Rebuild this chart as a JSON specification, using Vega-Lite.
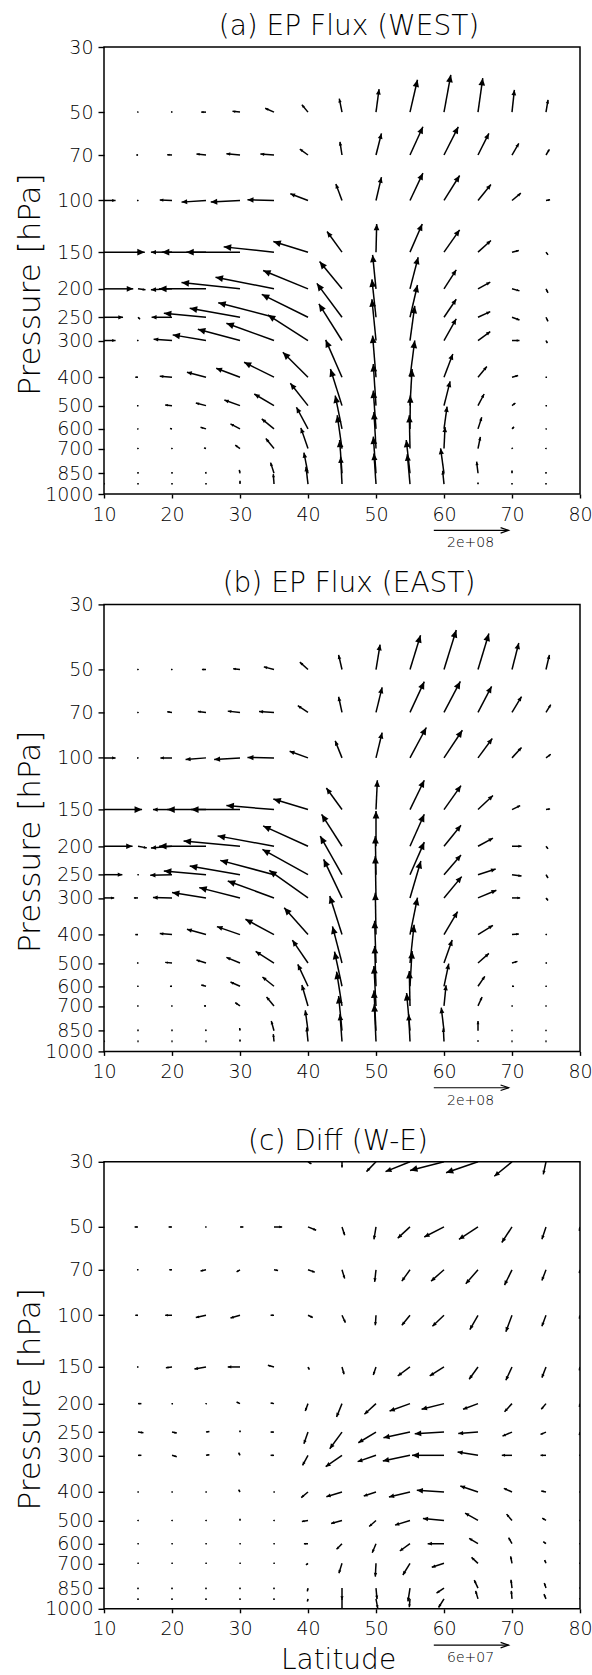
{
"$schema":"https://vega.github.io/schema/vega-lite/v6.json",
"padding":{"left":13,"top":12,"right":4,"bottom":0},
"bounds":"flush",
"spacing":110.4,
"resolve":{"scale":{"x":"independent","y":"independent"}},
"config":{
 "font":"DejaVu Sans",
 "view":{"stroke":"black","strokeWidth":1.5},
 "axis":{"domain":false,"grid":false,"tickColor":"black","tickWidth":1.4,"labelColor":"black","labelFont":"DejaVu Sans","labelFontSize":19,"labelFontWeight":300,"labelFlush":false,"labelOverlap":false,"labelBound":false,"titleFont":"DejaVu Sans","titleFontWeight":300,"titleColor":"black"},
 "title":{"font":"DejaVu Sans","fontSize":28,"fontWeight":300,"color":"black"}
},
"datasets":{
"A":[
{"lat":15,"p":50,"lat2":14.88,"p2":50},{"lat":20,"p":50,"lat2":19.85,"p2":50},{"lat":25,"p":50,"lat2":24.3,"p2":50},{"lat":30,"p":50,"lat2":28.9,"p2":49.7},{"lat":35,"p":50,"lat2":33.7,"p2":48.5},{"lat":40,"p":50,"lat2":39.1,"p2":47.2},{"lat":45,"p":50,"lat2":44.6,"p2":45.0},{"lat":50,"p":50,"lat2":50.45,"p2":41.75},{"lat":55,"p":50,"lat2":56.1,"p2":38.8},{"lat":60,"p":50,"lat2":61.0,"p2":37.3},{"lat":65,"p":50,"lat2":65.7,"p2":38.3},{"lat":70,"p":50,"lat2":70.35,"p2":42.0},{"lat":75,"p":50,"lat2":75.3,"p2":45.4},
{"lat":15,"p":70,"lat2":14.75,"p2":70},{"lat":20,"p":70,"lat2":19.3,"p2":69.8},{"lat":25,"p":70,"lat2":23.6,"p2":69.5},{"lat":30,"p":70,"lat2":28.0,"p2":69.3},{"lat":35,"p":70,"lat2":33.0,"p2":69.5},{"lat":40,"p":70,"lat2":38.8,"p2":66.8},{"lat":45,"p":70,"lat2":44.7,"p2":63.1},{"lat":50,"p":70,"lat2":50.8,"p2":59.1},{"lat":55,"p":70,"lat2":56.9,"p2":56.1},{"lat":60,"p":70,"lat2":62.1,"p2":56.1},{"lat":65,"p":70,"lat2":66.6,"p2":59.1},{"lat":70,"p":70,"lat2":71.0,"p2":63.9},{"lat":75,"p":70,"lat2":75.5,"p2":67.0},
{"lat":10,"p":100,"lat2":11.7,"p2":100},{"lat":15,"p":100,"lat2":14.85,"p2":100},{"lat":20,"p":100,"lat2":18.2,"p2":99.7},{"lat":25,"p":100,"lat2":21.4,"p2":101.3},{"lat":30,"p":100,"lat2":25.7,"p2":101.3},{"lat":35,"p":100,"lat2":31.1,"p2":99.5},{"lat":40,"p":100,"lat2":37.4,"p2":94.9},{"lat":45,"p":100,"lat2":44.1,"p2":87.8},{"lat":50,"p":100,"lat2":50.8,"p2":83.3},{"lat":55,"p":100,"lat2":56.9,"p2":80.7},{"lat":60,"p":100,"lat2":62.3,"p2":82.2},{"lat":65,"p":100,"lat2":66.9,"p2":88.2},{"lat":70,"p":100,"lat2":71.3,"p2":94.4},{"lat":75,"p":100,"lat2":75.6,"p2":99.5},
{"lat":10,"p":150,"lat2":16.0,"p2":150},{"lat":15,"p":150,"lat2":14.85,"p2":150},{"lat":20,"p":150,"lat2":16.9,"p2":150},{"lat":25,"p":150,"lat2":18.5,"p2":150},{"lat":30,"p":150,"lat2":22.1,"p2":150},{"lat":35,"p":150,"lat2":27.6,"p2":143.9},{"lat":40,"p":150,"lat2":34.9,"p2":138.0},{"lat":45,"p":150,"lat2":42.8,"p2":127.6},{"lat":50,"p":150,"lat2":50.1,"p2":120.2},{"lat":55,"p":150,"lat2":56.8,"p2":120.2},{"lat":60,"p":150,"lat2":62.3,"p2":125.9},{"lat":65,"p":150,"lat2":66.9,"p2":136.9},{"lat":70,"p":150,"lat2":71.0,"p2":148.1},{"lat":75,"p":150,"lat2":75.3,"p2":153.2},
{"lat":10,"p":200,"lat2":14.3,"p2":200},{"lat":15,"p":200,"lat2":16.1,"p2":201.6},{"lat":20,"p":200,"lat2":16.9,"p2":201.6},{"lat":25,"p":200,"lat2":18.1,"p2":200},{"lat":30,"p":200,"lat2":21.4,"p2":190.3},{"lat":35,"p":200,"lat2":26.4,"p2":182.5},{"lat":40,"p":200,"lat2":33.4,"p2":173.2},{"lat":45,"p":200,"lat2":41.7,"p2":161.5},{"lat":50,"p":200,"lat2":49.5,"p2":153.3},{"lat":55,"p":200,"lat2":56.2,"p2":156.1},{"lat":60,"p":200,"lat2":61.8,"p2":172.3},{"lat":65,"p":200,"lat2":66.8,"p2":189.8},{"lat":70,"p":200,"lat2":71.1,"p2":203.2},{"lat":75,"p":200,"lat2":75.3,"p2":206.4},
{"lat":10,"p":250,"lat2":12.8,"p2":250},{"lat":15,"p":250,"lat2":15.3,"p2":254},{"lat":20,"p":250,"lat2":17.0,"p2":250},{"lat":25,"p":250,"lat2":18.8,"p2":242.3},{"lat":30,"p":250,"lat2":22.6,"p2":233.0},{"lat":35,"p":250,"lat2":26.8,"p2":222.9},{"lat":40,"p":250,"lat2":33.2,"p2":208.8},{"lat":45,"p":250,"lat2":41.3,"p2":191.6},{"lat":50,"p":250,"lat2":49.4,"p2":185.6},{"lat":55,"p":250,"lat2":56.1,"p2":194.1},{"lat":60,"p":250,"lat2":61.8,"p2":217.1},{"lat":65,"p":250,"lat2":66.8,"p2":239.2},{"lat":70,"p":250,"lat2":71.1,"p2":255.3},{"lat":75,"p":250,"lat2":75.3,"p2":258.0},
{"lat":10,"p":300,"lat2":11.7,"p2":300},{"lat":15,"p":300,"lat2":14.85,"p2":300},{"lat":20,"p":300,"lat2":17.3,"p2":296.9},{"lat":25,"p":300,"lat2":20.1,"p2":287.0},{"lat":30,"p":300,"lat2":23.8,"p2":274.5},{"lat":35,"p":300,"lat2":28.0,"p2":261.9},{"lat":40,"p":300,"lat2":34.1,"p2":245.4},{"lat":45,"p":300,"lat2":41.6,"p2":225.0},{"lat":50,"p":300,"lat2":49.4,"p2":217.0},{"lat":55,"p":300,"lat2":55.7,"p2":228.6},{"lat":60,"p":300,"lat2":61.8,"p2":253.1},{"lat":65,"p":300,"lat2":66.8,"p2":279.6},{"lat":70,"p":300,"lat2":71.1,"p2":300},{"lat":75,"p":300,"lat2":75.2,"p2":306.3},
{"lat":15,"p":400,"lat2":14.6,"p2":400},{"lat":20,"p":400,"lat2":18.2,"p2":396.9},{"lat":25,"p":400,"lat2":22.2,"p2":384.6},{"lat":30,"p":400,"lat2":26.5,"p2":372.8},{"lat":35,"p":400,"lat2":30.6,"p2":355.8},{"lat":40,"p":400,"lat2":36.3,"p2":328.8},{"lat":45,"p":400,"lat2":42.6,"p2":298.5},{"lat":50,"p":400,"lat2":49.5,"p2":288.6},{"lat":55,"p":400,"lat2":55.7,"p2":300.0},{"lat":60,"p":400,"lat2":61.3,"p2":333.2},{"lat":65,"p":400,"lat2":66.3,"p2":367.9},{"lat":70,"p":400,"lat2":70.9,"p2":394.8},{"lat":75,"p":400,"lat2":75.15,"p2":400},
{"lat":15,"p":500,"lat2":14.85,"p2":500},{"lat":20,"p":500,"lat2":19.0,"p2":497.4},{"lat":25,"p":500,"lat2":23.5,"p2":489.7},{"lat":30,"p":500,"lat2":27.7,"p2":478.3},{"lat":35,"p":500,"lat2":32.1,"p2":456.4},{"lat":40,"p":500,"lat2":37.4,"p2":419.7},{"lat":45,"p":500,"lat2":43.3,"p2":375.1},{"lat":50,"p":500,"lat2":49.6,"p2":360.7},{"lat":55,"p":500,"lat2":55.3,"p2":375.1},{"lat":60,"p":500,"lat2":60.9,"p2":413.2},{"lat":65,"p":500,"lat2":65.9,"p2":456.4},{"lat":70,"p":500,"lat2":70.5,"p2":489.7},{"lat":75,"p":500,"lat2":75.15,"p2":500},
{"lat":15,"p":600,"lat2":14.88,"p2":600},{"lat":20,"p":600,"lat2":19.7,"p2":598.4},{"lat":25,"p":600,"lat2":24.2,"p2":592.2},{"lat":30,"p":600,"lat2":28.6,"p2":577.0},{"lat":35,"p":600,"lat2":33.2,"p2":554.8},{"lat":40,"p":600,"lat2":38.3,"p2":506.3},{"lat":45,"p":600,"lat2":44.0,"p2":462.1},{"lat":50,"p":600,"lat2":49.6,"p2":444.3},{"lat":55,"p":600,"lat2":55.05,"p2":462.1},{"lat":60,"p":600,"lat2":60.45,"p2":503.6},{"lat":65,"p":600,"lat2":65.55,"p2":547.6},{"lat":70,"p":600,"lat2":70.3,"p2":590.6},{"lat":75,"p":600,"lat2":75.12,"p2":600},
{"lat":15,"p":700,"lat2":14.88,"p2":700},{"lat":20,"p":700,"lat2":19.88,"p2":700},{"lat":25,"p":700,"lat2":24.7,"p2":696.4},{"lat":30,"p":700,"lat2":29.3,"p2":681.9},{"lat":35,"p":700,"lat2":33.8,"p2":647.2},{"lat":40,"p":700,"lat2":38.95,"p2":595.3},{"lat":45,"p":700,"lat2":44.3,"p2":539.1},{"lat":50,"p":700,"lat2":49.7,"p2":525.1},{"lat":55,"p":700,"lat2":54.9,"p2":539.1},{"lat":60,"p":700,"lat2":60.15,"p2":590.7},{"lat":65,"p":700,"lat2":65.35,"p2":638.9},{"lat":70,"p":700,"lat2":70.12,"p2":696.4},{"lat":75,"p":700,"lat2":75.1,"p2":700},
{"lat":15,"p":850,"lat2":15,"p2":842},{"lat":20,"p":850,"lat2":20,"p2":842},{"lat":25,"p":850,"lat2":24.95,"p2":842},{"lat":30,"p":850,"lat2":29.9,"p2":828.1},{"lat":35,"p":850,"lat2":34.5,"p2":781.8},{"lat":40,"p":850,"lat2":39.4,"p2":722.8},{"lat":45,"p":850,"lat2":44.65,"p2":654.6},{"lat":50,"p":850,"lat2":49.6,"p2":637.6},{"lat":55,"p":850,"lat2":54.45,"p2":654.6},{"lat":60,"p":850,"lat2":59.5,"p2":698.8},{"lat":65,"p":850,"lat2":64.8,"p2":775.8},{"lat":70,"p":850,"lat2":70.0,"p2":832.4},{"lat":75,"p":850,"lat2":75.0,"p2":842},
{"lat":10,"p":925,"lat2":10.1,"p2":920},{"lat":15,"p":925,"lat2":15,"p2":918},{"lat":20,"p":925,"lat2":20,"p2":918},{"lat":25,"p":925,"lat2":25,"p2":918},{"lat":30,"p":925,"lat2":30.0,"p2":901.1},{"lat":35,"p":925,"lat2":34.9,"p2":855.3},{"lat":40,"p":925,"lat2":39.7,"p2":807.6},{"lat":45,"p":925,"lat2":44.8,"p2":746.8},{"lat":50,"p":925,"lat2":49.7,"p2":727.4},{"lat":55,"p":925,"lat2":54.6,"p2":731.1},{"lat":60,"p":925,"lat2":59.8,"p2":833.3},{"lat":65,"p":925,"lat2":65.0,"p2":913.0},{"lat":70,"p":925,"lat2":70.0,"p2":918},{"lat":75,"p":925,"lat2":75.0,"p2":918}
],
"B":[
{"lat":15,"p":50,"lat2":14.88,"p2":50},{"lat":20,"p":50,"lat2":19.85,"p2":50},{"lat":25,"p":50,"lat2":24.4,"p2":50},{"lat":30,"p":50,"lat2":29.0,"p2":49.7},{"lat":35,"p":50,"lat2":33.5,"p2":48.97},{"lat":40,"p":50,"lat2":38.8,"p2":47.2},{"lat":45,"p":50,"lat2":44.5,"p2":44.6},{"lat":50,"p":50,"lat2":50.6,"p2":41.1},{"lat":55,"p":50,"lat2":56.55,"p2":38.2},{"lat":60,"p":50,"lat2":61.8,"p2":36.7},{"lat":65,"p":50,"lat2":66.6,"p2":37.7},{"lat":70,"p":50,"lat2":71.0,"p2":40.6},{"lat":75,"p":50,"lat2":75.5,"p2":44.6},
{"lat":15,"p":70,"lat2":14.88,"p2":70},{"lat":20,"p":70,"lat2":19.3,"p2":69.6},{"lat":25,"p":70,"lat2":23.8,"p2":69.5},{"lat":30,"p":70,"lat2":28.2,"p2":69.3},{"lat":35,"p":70,"lat2":32.8,"p2":69.5},{"lat":40,"p":70,"lat2":38.5,"p2":66.4},{"lat":45,"p":70,"lat2":44.5,"p2":61.9},{"lat":50,"p":70,"lat2":50.9,"p2":57.5},{"lat":55,"p":70,"lat2":57.1,"p2":55.0},{"lat":60,"p":70,"lat2":62.4,"p2":54.9},{"lat":65,"p":70,"lat2":67.0,"p2":57.1},{"lat":70,"p":70,"lat2":71.4,"p2":61.8},{"lat":75,"p":70,"lat2":75.7,"p2":65.9},
{"lat":10,"p":100,"lat2":11.7,"p2":100},{"lat":15,"p":100,"lat2":14.85,"p2":100},{"lat":20,"p":100,"lat2":18.3,"p2":100},{"lat":25,"p":100,"lat2":22.0,"p2":101.3},{"lat":30,"p":100,"lat2":26.2,"p2":101.3},{"lat":35,"p":100,"lat2":31.1,"p2":99.7},{"lat":40,"p":100,"lat2":37.3,"p2":94.9},{"lat":45,"p":100,"lat2":44.0,"p2":87.5},{"lat":50,"p":100,"lat2":50.9,"p2":82.0},{"lat":55,"p":100,"lat2":57.4,"p2":78.8},{"lat":60,"p":100,"lat2":62.7,"p2":80.5},{"lat":65,"p":100,"lat2":67.1,"p2":85.9},{"lat":70,"p":100,"lat2":71.4,"p2":92.2},{"lat":75,"p":100,"lat2":75.7,"p2":97.2},
{"lat":10,"p":150,"lat2":15.6,"p2":150},{"lat":15,"p":150,"lat2":14.85,"p2":150},{"lat":20,"p":150,"lat2":17.2,"p2":150},{"lat":25,"p":150,"lat2":19.3,"p2":150},{"lat":30,"p":150,"lat2":22.8,"p2":150},{"lat":35,"p":150,"lat2":28.0,"p2":145.4},{"lat":40,"p":150,"lat2":34.9,"p2":138.0},{"lat":45,"p":150,"lat2":42.7,"p2":126.6},{"lat":50,"p":150,"lat2":50.2,"p2":119.2},{"lat":55,"p":150,"lat2":57.1,"p2":119.2},{"lat":60,"p":150,"lat2":62.5,"p2":124.3},{"lat":65,"p":150,"lat2":67.2,"p2":134.4},{"lat":70,"p":150,"lat2":71.2,"p2":145.4},{"lat":75,"p":150,"lat2":75.6,"p2":149.2},
{"lat":10,"p":200,"lat2":14.2,"p2":200},{"lat":15,"p":200,"lat2":16.3,"p2":202.6},{"lat":20,"p":200,"lat2":16.9,"p2":202.6},{"lat":25,"p":200,"lat2":18.1,"p2":200},{"lat":30,"p":200,"lat2":21.7,"p2":191.8},{"lat":35,"p":200,"lat2":26.7,"p2":184.4},{"lat":40,"p":200,"lat2":33.4,"p2":170.5},{"lat":45,"p":200,"lat2":42.0,"p2":155.7},{"lat":50,"p":200,"lat2":50.0,"p2":151.6},{"lat":55,"p":200,"lat2":57.1,"p2":155.7},{"lat":60,"p":200,"lat2":62.5,"p2":169.6},{"lat":65,"p":200,"lat2":67.2,"p2":187.8},{"lat":70,"p":200,"lat2":71.4,"p2":200},{"lat":75,"p":200,"lat2":75.3,"p2":204.2},
{"lat":10,"p":250,"lat2":12.7,"p2":250},{"lat":15,"p":250,"lat2":15.12,"p2":250},{"lat":20,"p":250,"lat2":16.8,"p2":251.3},{"lat":25,"p":250,"lat2":18.8,"p2":242.9},{"lat":30,"p":250,"lat2":22.6,"p2":233.6},{"lat":35,"p":250,"lat2":27.1,"p2":223.5},{"lat":40,"p":250,"lat2":33.3,"p2":205.0},{"lat":45,"p":250,"lat2":41.8,"p2":184.6},{"lat":50,"p":250,"lat2":49.9,"p2":184.6},{"lat":55,"p":250,"lat2":57.1,"p2":193.6},{"lat":60,"p":250,"lat2":62.5,"p2":214.3},{"lat":65,"p":250,"lat2":67.6,"p2":239.2},{"lat":70,"p":250,"lat2":71.4,"p2":252.6},{"lat":75,"p":250,"lat2":75.3,"p2":256.6},
{"lat":10,"p":300,"lat2":11.5,"p2":300},{"lat":15,"p":300,"lat2":14.4,"p2":300},{"lat":20,"p":300,"lat2":17.2,"p2":299.2},{"lat":25,"p":300,"lat2":20.0,"p2":287.7},{"lat":30,"p":300,"lat2":24.0,"p2":276.7},{"lat":35,"p":300,"lat2":28.2,"p2":262.6},{"lat":40,"p":300,"lat2":34.3,"p2":241.6},{"lat":45,"p":300,"lat2":42.3,"p2":221.6},{"lat":50,"p":300,"lat2":49.9,"p2":215.9},{"lat":55,"p":300,"lat2":56.6,"p2":224.5},{"lat":60,"p":300,"lat2":62.6,"p2":253.8},{"lat":65,"p":300,"lat2":67.7,"p2":282.5},{"lat":70,"p":300,"lat2":71.2,"p2":300},{"lat":75,"p":300,"lat2":75.3,"p2":306.3},
{"lat":15,"p":400,"lat2":14.6,"p2":400},{"lat":20,"p":400,"lat2":18.2,"p2":396.9},{"lat":25,"p":400,"lat2":22.2,"p2":383.6},{"lat":30,"p":400,"lat2":26.6,"p2":375.7},{"lat":35,"p":400,"lat2":30.8,"p2":354.7},{"lat":40,"p":400,"lat2":36.5,"p2":323.8},{"lat":45,"p":400,"lat2":43.2,"p2":295.4},{"lat":50,"p":400,"lat2":49.9,"p2":287.8},{"lat":55,"p":400,"lat2":56.1,"p2":299.3},{"lat":60,"p":400,"lat2":62.0,"p2":334.0},{"lat":65,"p":400,"lat2":67.2,"p2":371.8},{"lat":70,"p":400,"lat2":71.0,"p2":397.9},{"lat":75,"p":400,"lat2":75.15,"p2":400},
{"lat":15,"p":500,"lat2":14.85,"p2":500},{"lat":20,"p":500,"lat2":19.0,"p2":497.4},{"lat":25,"p":500,"lat2":23.6,"p2":488.4},{"lat":30,"p":500,"lat2":28.0,"p2":478.3},{"lat":35,"p":500,"lat2":32.3,"p2":456.4},{"lat":40,"p":500,"lat2":37.7,"p2":417.5},{"lat":45,"p":500,"lat2":43.6,"p2":375.1},{"lat":50,"p":500,"lat2":49.8,"p2":358.8},{"lat":55,"p":500,"lat2":55.6,"p2":370.3},{"lat":60,"p":500,"lat2":61.2,"p2":417.5},{"lat":65,"p":500,"lat2":66.6,"p2":463.6},{"lat":70,"p":500,"lat2":70.8,"p2":493.5},{"lat":75,"p":500,"lat2":75.15,"p2":500},
{"lat":15,"p":600,"lat2":14.88,"p2":600},{"lat":20,"p":600,"lat2":19.7,"p2":600},{"lat":25,"p":600,"lat2":24.3,"p2":593.8},{"lat":30,"p":600,"lat2":28.6,"p2":580.0},{"lat":35,"p":600,"lat2":33.3,"p2":557.7},{"lat":40,"p":600,"lat2":38.5,"p2":505.0},{"lat":45,"p":600,"lat2":43.9,"p2":457.2},{"lat":50,"p":600,"lat2":49.8,"p2":437.4},{"lat":55,"p":600,"lat2":55.3,"p2":454.8},{"lat":60,"p":600,"lat2":60.7,"p2":502.3},{"lat":65,"p":600,"lat2":66.0,"p2":554.8},{"lat":70,"p":600,"lat2":70.3,"p2":600},{"lat":75,"p":600,"lat2":75.12,"p2":600},
{"lat":15,"p":700,"lat2":14.88,"p2":700},{"lat":20,"p":700,"lat2":19.88,"p2":700},{"lat":25,"p":700,"lat2":24.7,"p2":700},{"lat":30,"p":700,"lat2":29.3,"p2":681.9},{"lat":35,"p":700,"lat2":33.9,"p2":652.3},{"lat":40,"p":700,"lat2":39.1,"p2":593.7},{"lat":45,"p":700,"lat2":44.2,"p2":534.8},{"lat":50,"p":700,"lat2":49.7,"p2":511.6},{"lat":55,"p":700,"lat2":54.9,"p2":532.0},{"lat":60,"p":700,"lat2":60.3,"p2":595.3},{"lat":65,"p":700,"lat2":65.6,"p2":652.3},{"lat":70,"p":700,"lat2":70.12,"p2":700},{"lat":75,"p":700,"lat2":75.1,"p2":700},
{"lat":15,"p":850,"lat2":15,"p2":842},{"lat":20,"p":850,"lat2":20,"p2":842},{"lat":25,"p":850,"lat2":24.95,"p2":842},{"lat":30,"p":850,"lat2":29.95,"p2":832.4},{"lat":35,"p":850,"lat2":34.6,"p2":788.0},{"lat":40,"p":850,"lat2":39.6,"p2":724.7},{"lat":45,"p":850,"lat2":44.5,"p2":647.7},{"lat":50,"p":850,"lat2":49.7,"p2":619.6},{"lat":55,"p":850,"lat2":54.5,"p2":632.6},{"lat":60,"p":850,"lat2":59.6,"p2":709.8},{"lat":65,"p":850,"lat2":65.0,"p2":788.0},{"lat":70,"p":850,"lat2":70.0,"p2":843.4},{"lat":75,"p":850,"lat2":75.0,"p2":843.4},
{"lat":10,"p":925,"lat2":10.1,"p2":920},{"lat":15,"p":925,"lat2":15,"p2":918},{"lat":20,"p":925,"lat2":20,"p2":918},{"lat":25,"p":925,"lat2":25,"p2":918},{"lat":30,"p":925,"lat2":30,"p2":910.6},{"lat":35,"p":925,"lat2":34.9,"p2":873.4},{"lat":40,"p":925,"lat2":39.8,"p2":829.0},{"lat":45,"p":925,"lat2":44.7,"p2":746.8},{"lat":50,"p":925,"lat2":49.75,"p2":690.2},{"lat":55,"p":925,"lat2":54.8,"p2":746.8},{"lat":60,"p":925,"lat2":59.9,"p2":833.3},{"lat":65,"p":925,"lat2":65.0,"p2":915.4},{"lat":70,"p":925,"lat2":70,"p2":918},{"lat":75,"p":925,"lat2":75,"p2":918}
],
"C":[
{"lat":40,"p":30,"lat2":40.5,"p2":30.5},{"lat":45,"p":30,"lat2":45.0,"p2":31.4},{"lat":50,"p":30,"lat2":48.6,"p2":32.4},{"lat":55,"p":30,"lat2":51.4,"p2":32.4},{"lat":60,"p":30,"lat2":55.0,"p2":32.1},{"lat":65,"p":30,"lat2":60.3,"p2":32.7},{"lat":70,"p":30,"lat2":67.4,"p2":33.6},{"lat":75,"p":30,"lat2":74.6,"p2":33.1},
{"lat":15,"p":50,"lat2":14.5,"p2":50},{"lat":20,"p":50,"lat2":19.5,"p2":50},{"lat":25,"p":50,"lat2":24.88,"p2":50},{"lat":30,"p":50,"lat2":30.5,"p2":50},{"lat":35,"p":50,"lat2":36.2,"p2":50},{"lat":40,"p":50,"lat2":41.2,"p2":51.3},{"lat":45,"p":50,"lat2":45.4,"p2":53.4},{"lat":50,"p":50,"lat2":49.7,"p2":55.1},{"lat":55,"p":50,"lat2":53.2,"p2":54.6},{"lat":60,"p":50,"lat2":57.1,"p2":54.1},{"lat":65,"p":50,"lat2":62.2,"p2":55.1},{"lat":70,"p":50,"lat2":68.5,"p2":56.5},{"lat":75,"p":50,"lat2":74.4,"p2":55.1},{"lat":80,"p":50,"lat2":79.9,"p2":51.6},
{"lat":15,"p":70,"lat2":14.85,"p2":70},{"lat":20,"p":70,"lat2":19.6,"p2":70},{"lat":25,"p":70,"lat2":24.2,"p2":70.6},{"lat":30,"p":70,"lat2":29.5,"p2":71.1},{"lat":35,"p":70,"lat2":35.6,"p2":70.4},{"lat":40,"p":70,"lat2":41.0,"p2":71.3},{"lat":45,"p":70,"lat2":45.4,"p2":74.9},{"lat":50,"p":70,"lat2":49.8,"p2":76.9},{"lat":55,"p":70,"lat2":53.8,"p2":76.5},{"lat":60,"p":70,"lat2":58.1,"p2":76.5},{"lat":65,"p":70,"lat2":63.2,"p2":78.1},{"lat":70,"p":70,"lat2":68.9,"p2":78.9},{"lat":75,"p":70,"lat2":74.4,"p2":76.1},{"lat":80,"p":70,"lat2":79.9,"p2":71.9},
{"lat":15,"p":100,"lat2":14.6,"p2":100},{"lat":20,"p":100,"lat2":19.0,"p2":100},{"lat":25,"p":100,"lat2":23.5,"p2":101.8},{"lat":30,"p":100,"lat2":28.6,"p2":102.1},{"lat":35,"p":100,"lat2":34.5,"p2":100},{"lat":40,"p":100,"lat2":40.7,"p2":101.8},{"lat":45,"p":100,"lat2":45.5,"p2":105.9},{"lat":50,"p":100,"lat2":49.9,"p2":108.2},{"lat":55,"p":100,"lat2":53.8,"p2":108.2},{"lat":60,"p":100,"lat2":58.3,"p2":109.0},{"lat":65,"p":100,"lat2":63.8,"p2":111.9},{"lat":70,"p":100,"lat2":69.1,"p2":113.7},{"lat":75,"p":100,"lat2":74.4,"p2":109.0},{"lat":80,"p":100,"lat2":79.9,"p2":102.7},
{"lat":15,"p":150,"lat2":14.85,"p2":150},{"lat":20,"p":150,"lat2":19.1,"p2":150.8},{"lat":25,"p":150,"lat2":23.3,"p2":152.4},{"lat":30,"p":150,"lat2":28.2,"p2":150},{"lat":35,"p":150,"lat2":34.1,"p2":148.1},{"lat":40,"p":150,"lat2":40.2,"p2":153.2},{"lat":45,"p":150,"lat2":45.3,"p2":158.9},{"lat":50,"p":150,"lat2":49.6,"p2":159.7},{"lat":55,"p":150,"lat2":53.2,"p2":161.0},{"lat":60,"p":150,"lat2":57.9,"p2":161.0},{"lat":65,"p":150,"lat2":63.7,"p2":165.2},{"lat":70,"p":150,"lat2":69.1,"p2":166.5},{"lat":75,"p":150,"lat2":74.4,"p2":163.1},{"lat":80,"p":150,"lat2":79.9,"p2":154},
{"lat":15,"p":200,"lat2":15.5,"p2":200},{"lat":20,"p":200,"lat2":20.15,"p2":200},{"lat":25,"p":200,"lat2":25.12,"p2":200},{"lat":30,"p":200,"lat2":29.5,"p2":197.4},{"lat":35,"p":200,"lat2":34.5,"p2":199.0},{"lat":40,"p":200,"lat2":39.6,"p2":211.8},{"lat":45,"p":200,"lat2":44.2,"p2":222.0},{"lat":50,"p":200,"lat2":48.3,"p2":217.4},{"lat":55,"p":200,"lat2":52.0,"p2":211.8},{"lat":60,"p":200,"lat2":56.7,"p2":209.1},{"lat":65,"p":200,"lat2":62.8,"p2":209.1},{"lat":70,"p":200,"lat2":68.9,"p2":213.0},{"lat":75,"p":200,"lat2":74.3,"p2":209.1},{"lat":80,"p":200,"lat2":79.9,"p2":205},
{"lat":15,"p":250,"lat2":15.8,"p2":251.3},{"lat":20,"p":250,"lat2":20.7,"p2":252.0},{"lat":25,"p":250,"lat2":25.5,"p2":248.7},{"lat":30,"p":250,"lat2":30.0,"p2":246.8},{"lat":35,"p":250,"lat2":34.5,"p2":250},{"lat":40,"p":250,"lat2":39.4,"p2":274.0},{"lat":45,"p":250,"lat2":43.2,"p2":284.9},{"lat":50,"p":250,"lat2":47.4,"p2":271.8},{"lat":55,"p":250,"lat2":51.1,"p2":261.4},{"lat":60,"p":250,"lat2":55.7,"p2":253.3},{"lat":65,"p":250,"lat2":62.1,"p2":252.6},{"lat":70,"p":250,"lat2":68.6,"p2":258.0},{"lat":75,"p":250,"lat2":74.2,"p2":254.6},{"lat":80,"p":250,"lat2":79.9,"p2":256},
{"lat":15,"p":300,"lat2":15.5,"p2":300},{"lat":20,"p":300,"lat2":20.7,"p2":303.2},{"lat":25,"p":300,"lat2":25.5,"p2":298.4},{"lat":30,"p":300,"lat2":29.8,"p2":293.8},{"lat":35,"p":300,"lat2":34.5,"p2":300},{"lat":40,"p":300,"lat2":39.2,"p2":324.5},{"lat":45,"p":300,"lat2":42.6,"p2":327.9},{"lat":50,"p":300,"lat2":47.3,"p2":315.3},{"lat":55,"p":300,"lat2":51.0,"p2":313.6},{"lat":60,"p":300,"lat2":55.3,"p2":300},{"lat":65,"p":300,"lat2":62.0,"p2":292.3},{"lat":70,"p":300,"lat2":68.5,"p2":300},{"lat":75,"p":300,"lat2":74.2,"p2":300},{"lat":80,"p":300,"lat2":79.9,"p2":300},
{"lat":15,"p":400,"lat2":15.12,"p2":400},{"lat":20,"p":400,"lat2":20.12,"p2":400},{"lat":25,"p":400,"lat2":25.12,"p2":400},{"lat":30,"p":400,"lat2":29.8,"p2":392.8},{"lat":35,"p":400,"lat2":35.12,"p2":400},{"lat":40,"p":400,"lat2":39.0,"p2":418.2},{"lat":45,"p":400,"lat2":42.7,"p2":414.9},{"lat":50,"p":400,"lat2":48.2,"p2":412.8},{"lat":55,"p":400,"lat2":51.9,"p2":416.0},{"lat":60,"p":400,"lat2":56.0,"p2":394.8},{"lat":65,"p":400,"lat2":62.4,"p2":381.6},{"lat":70,"p":400,"lat2":68.8,"p2":388.6},{"lat":75,"p":400,"lat2":74.3,"p2":396.9},{"lat":80,"p":400,"lat2":79.9,"p2":400},
{"lat":15,"p":500,"lat2":15.12,"p2":500},{"lat":20,"p":500,"lat2":20.12,"p2":500},{"lat":25,"p":500,"lat2":25.12,"p2":500},{"lat":30,"p":500,"lat2":30.0,"p2":493.5},{"lat":35,"p":500,"lat2":35.12,"p2":500},{"lat":40,"p":500,"lat2":39.1,"p2":503.9},{"lat":45,"p":500,"lat2":43.4,"p2":511.9},{"lat":50,"p":500,"lat2":49.0,"p2":524.1},{"lat":55,"p":500,"lat2":52.8,"p2":518.6},{"lat":60,"p":500,"lat2":56.9,"p2":492.2},{"lat":65,"p":500,"lat2":63.1,"p2":472.1},{"lat":70,"p":500,"lat2":69.2,"p2":475.8},{"lat":75,"p":500,"lat2":74.45,"p2":491.0},{"lat":80,"p":500,"lat2":79.9,"p2":500},
{"lat":15,"p":600,"lat2":15.12,"p2":600},{"lat":20,"p":600,"lat2":20.12,"p2":600},{"lat":25,"p":600,"lat2":25.12,"p2":600},{"lat":30,"p":600,"lat2":30.12,"p2":600},{"lat":35,"p":600,"lat2":35.12,"p2":600},{"lat":40,"p":600,"lat2":39.4,"p2":600},{"lat":45,"p":600,"lat2":44.2,"p2":627.2},{"lat":50,"p":600,"lat2":49.45,"p2":643.9},{"lat":55,"p":600,"lat2":53.5,"p2":635.5},{"lat":60,"p":600,"lat2":57.6,"p2":600},{"lat":65,"p":600,"lat2":63.7,"p2":575.4},{"lat":70,"p":600,"lat2":69.5,"p2":572.5},{"lat":75,"p":600,"lat2":74.6,"p2":590.6},{"lat":80,"p":600,"lat2":79.9,"p2":600},
{"lat":15,"p":700,"lat2":15.12,"p2":700},{"lat":20,"p":700,"lat2":20.12,"p2":700},{"lat":25,"p":700,"lat2":25.12,"p2":700},{"lat":30,"p":700,"lat2":30.12,"p2":700},{"lat":35,"p":700,"lat2":35.12,"p2":700},{"lat":40,"p":700,"lat2":39.7,"p2":709.2},{"lat":45,"p":700,"lat2":44.55,"p2":757.1},{"lat":50,"p":700,"lat2":49.9,"p2":777.1},{"lat":55,"p":700,"lat2":53.95,"p2":767.1},{"lat":60,"p":700,"lat2":58.2,"p2":722.3},{"lat":65,"p":700,"lat2":64.05,"p2":667.9},{"lat":70,"p":700,"lat2":69.8,"p2":662.6},{"lat":75,"p":700,"lat2":74.8,"p2":681.9},{"lat":80,"p":700,"lat2":79.9,"p2":700},
{"lat":15,"p":850,"lat2":15,"p2":858},{"lat":20,"p":850,"lat2":20,"p2":858},{"lat":25,"p":850,"lat2":25,"p2":858},{"lat":30,"p":850,"lat2":30,"p2":858},{"lat":35,"p":850,"lat2":35,"p2":858},{"lat":40,"p":850,"lat2":39.9,"p2":872.5},{"lat":45,"p":850,"lat2":45.0,"p2":931.5},{"lat":50,"p":850,"lat2":50.15,"p2":926.5},{"lat":55,"p":850,"lat2":54.7,"p2":943.7},{"lat":60,"p":850,"lat2":58.9,"p2":884.0},{"lat":65,"p":850,"lat2":64.45,"p2":798.3},{"lat":70,"p":850,"lat2":69.85,"p2":796.3},{"lat":75,"p":850,"lat2":74.75,"p2":817.4},{"lat":80,"p":850,"lat2":79.9,"p2":850},
{"lat":15,"p":925,"lat2":15,"p2":933},{"lat":20,"p":925,"lat2":20,"p2":933},{"lat":25,"p":925,"lat2":25,"p2":933},{"lat":30,"p":925,"lat2":30,"p2":933},{"lat":35,"p":925,"lat2":35,"p2":933},{"lat":40,"p":925,"lat2":39.9,"p2":944.5},{"lat":45,"p":925,"lat2":45.0,"p2":1026.9},{"lat":50,"p":925,"lat2":50.25,"p2":995.2},{"lat":55,"p":925,"lat2":54.9,"p2":987.5},{"lat":60,"p":925,"lat2":59.2,"p2":990.0},{"lat":65,"p":925,"lat2":64.65,"p2":868.8},{"lat":70,"p":925,"lat2":69.9,"p2":868.8},{"lat":75,"p":925,"lat2":74.7,"p2":891.4},{"lat":80,"p":925,"lat2":79.9,"p2":925}
]
},
"vconcat":[
{
"width":476,"height":447,
"title":{"text":"(a) EP Flux (WEST)","offset":-25,"baseline":"alphabetic","dx":7},
"layer":[
{"data":{"name":"A"},"mark":{"type":"rule","clip":true,"color":"black","strokeWidth":1.5},
 "encoding":{
  "x":{"field":"lat","type":"quantitative","scale":{"domain":[10,80],"nice":false,"zero":false},"axis":{"values":[10,20,30,40,50,60,70,80],"title":null,"tickSize":4,"labelPadding":7,"labelAngle":0}},
  "y":{"field":"p","type":"quantitative","scale":{"type":"log","domain":[30,1000],"reverse":true,"nice":false},"axis":{"values":[30,50,70,100,150,200,250,300,400,500,600,700,850,1000],"format":"d","title":"Pressure [hPa]","titleFontSize":31,"titleAngle":-90,"titleX":-73.5,"titleY":237,"titleBaseline":"middle","titleAlign":"center","tickSize":6,"labelPadding":5}},
  "x2":{"field":"lat2"},"y2":{"field":"p2"}}},
{"data":{"name":"A"},"mark":{"type":"point","clip":true,"shape":"M0,0L-0.45,1L0.45,1Z","filled":true,"color":"black","opacity":1,"strokeWidth":0,
  "angle":{"expr":"atan2(scale('concat_0_x',datum.lat2)-scale('concat_0_x',datum.lat),scale('concat_0_y',datum.p)-scale('concat_0_y',datum.p2))*180/PI"},
  "size":{"expr":"4*pow(min(7.5,1.5+0.17*sqrt(pow(scale('concat_0_x',datum.lat2)-scale('concat_0_x',datum.lat),2)+pow(scale('concat_0_y',datum.p)-scale('concat_0_y',datum.p2),2))),2)"}},
 "encoding":{"x":{"field":"lat2","type":"quantitative"},"y":{"field":"p2","type":"quantitative"}}},
{"data":{"values":[{"lat":58.5,"lat2":69.5,"p":1330,"p2":1330}]},"mark":{"type":"rule","clip":false,"color":"black","strokeWidth":1.2},
 "encoding":{"x":{"field":"lat","type":"quantitative"},"x2":{"field":"lat2"},"y":{"field":"p","type":"quantitative"},"y2":{"field":"p2"}}},
{"data":{"values":[{"lat2":69.5,"p2":1330}]},"mark":{"type":"point","clip":false,"shape":"M-0.34,1L0,0L0.34,1","filled":false,"color":"black","opacity":1,"strokeWidth":1.2,"angle":90,"size":256},
 "encoding":{"x":{"field":"lat2","type":"quantitative"},"y":{"field":"p2","type":"quantitative"}}},
{"data":{"values":[{"lat":63.9,"p":1520,"label":"2e+08"}]},"mark":{"type":"text","clip":false,"fontSize":14,"fontWeight":300,"baseline":"alphabetic","align":"center","color":"black"},
 "encoding":{"x":{"field":"lat","type":"quantitative"},"y":{"field":"p","type":"quantitative"},"text":{"field":"label"}}}
]
},
{
"width":476,"height":447,
"title":{"text":"(b) EP Flux (EAST)","offset":-25,"baseline":"alphabetic","dx":7},
"layer":[
{"data":{"name":"B"},"mark":{"type":"rule","clip":true,"color":"black","strokeWidth":1.5},
 "encoding":{
  "x":{"field":"lat","type":"quantitative","scale":{"domain":[10,80],"nice":false,"zero":false},"axis":{"values":[10,20,30,40,50,60,70,80],"title":null,"tickSize":4,"labelPadding":7,"labelAngle":0}},
  "y":{"field":"p","type":"quantitative","scale":{"type":"log","domain":[30,1000],"reverse":true,"nice":false},"axis":{"values":[30,50,70,100,150,200,250,300,400,500,600,700,850,1000],"format":"d","title":"Pressure [hPa]","titleFontSize":31,"titleAngle":-90,"titleX":-73.5,"titleY":237,"titleBaseline":"middle","titleAlign":"center","tickSize":6,"labelPadding":5}},
  "x2":{"field":"lat2"},"y2":{"field":"p2"}}},
{"data":{"name":"B"},"mark":{"type":"point","clip":true,"shape":"M0,0L-0.45,1L0.45,1Z","filled":true,"color":"black","opacity":1,"strokeWidth":0,
  "angle":{"expr":"atan2(scale('concat_1_x',datum.lat2)-scale('concat_1_x',datum.lat),scale('concat_1_y',datum.p)-scale('concat_1_y',datum.p2))*180/PI"},
  "size":{"expr":"4*pow(min(7.5,1.5+0.17*sqrt(pow(scale('concat_1_x',datum.lat2)-scale('concat_1_x',datum.lat),2)+pow(scale('concat_1_y',datum.p)-scale('concat_1_y',datum.p2),2))),2)"}},
 "encoding":{"x":{"field":"lat2","type":"quantitative"},"y":{"field":"p2","type":"quantitative"}}},
{"data":{"values":[{"lat":58.5,"lat2":69.5,"p":1330,"p2":1330}]},"mark":{"type":"rule","clip":false,"color":"black","strokeWidth":1.2},
 "encoding":{"x":{"field":"lat","type":"quantitative"},"x2":{"field":"lat2"},"y":{"field":"p","type":"quantitative"},"y2":{"field":"p2"}}},
{"data":{"values":[{"lat2":69.5,"p2":1330}]},"mark":{"type":"point","clip":false,"shape":"M-0.34,1L0,0L0.34,1","filled":false,"color":"black","opacity":1,"strokeWidth":1.2,"angle":90,"size":256},
 "encoding":{"x":{"field":"lat2","type":"quantitative"},"y":{"field":"p2","type":"quantitative"}}},
{"data":{"values":[{"lat":63.9,"p":1520,"label":"2e+08"}]},"mark":{"type":"text","clip":false,"fontSize":14,"fontWeight":300,"baseline":"alphabetic","align":"center","color":"black"},
 "encoding":{"x":{"field":"lat","type":"quantitative"},"y":{"field":"p","type":"quantitative"},"text":{"field":"label"}}}
]
},
{
"width":476,"height":447,
"title":{"text":"(c) Diff (W-E)","offset":-25,"baseline":"alphabetic","dx":-4},
"layer":[
{"data":{"name":"C"},"mark":{"type":"rule","clip":true,"color":"black","strokeWidth":1.5},
 "encoding":{
  "x":{"field":"lat","type":"quantitative","scale":{"domain":[10,80],"nice":false,"zero":false},"axis":{"values":[10,20,30,40,50,60,70,80],"title":"Latitude","titleFontSize":28,"titleBaseline":"alphabetic","titleY":60,"titleX":234,"tickSize":4,"labelPadding":7,"labelAngle":0}},
  "y":{"field":"p","type":"quantitative","scale":{"type":"log","domain":[30,1000],"reverse":true,"nice":false},"axis":{"values":[30,50,70,100,150,200,250,300,400,500,600,700,850,1000],"format":"d","title":"Pressure [hPa]","titleFontSize":31,"titleAngle":-90,"titleX":-73.5,"titleY":237,"titleBaseline":"middle","titleAlign":"center","tickSize":6,"labelPadding":5}},
  "x2":{"field":"lat2"},"y2":{"field":"p2"}}},
{"data":{"name":"C"},"mark":{"type":"point","clip":true,"shape":"M0,0L-0.45,1L0.45,1Z","filled":true,"color":"black","opacity":1,"strokeWidth":0,
  "angle":{"expr":"atan2(scale('concat_2_x',datum.lat2)-scale('concat_2_x',datum.lat),scale('concat_2_y',datum.p)-scale('concat_2_y',datum.p2))*180/PI"},
  "size":{"expr":"4*pow(min(7.5,1.5+0.17*sqrt(pow(scale('concat_2_x',datum.lat2)-scale('concat_2_x',datum.lat),2)+pow(scale('concat_2_y',datum.p)-scale('concat_2_y',datum.p2),2))),2)"}},
 "encoding":{"x":{"field":"lat2","type":"quantitative"},"y":{"field":"p2","type":"quantitative"}}},
{"data":{"values":[{"lat":58.5,"lat2":69.5,"p":1330,"p2":1330}]},"mark":{"type":"rule","clip":false,"color":"black","strokeWidth":1.2},
 "encoding":{"x":{"field":"lat","type":"quantitative"},"x2":{"field":"lat2"},"y":{"field":"p","type":"quantitative"},"y2":{"field":"p2"}}},
{"data":{"values":[{"lat2":69.5,"p2":1330}]},"mark":{"type":"point","clip":false,"shape":"M-0.34,1L0,0L0.34,1","filled":false,"color":"black","opacity":1,"strokeWidth":1.2,"angle":90,"size":256},
 "encoding":{"x":{"field":"lat2","type":"quantitative"},"y":{"field":"p2","type":"quantitative"}}},
{"data":{"values":[{"lat":63.9,"p":1520,"label":"6e+07"}]},"mark":{"type":"text","clip":false,"fontSize":14,"fontWeight":300,"baseline":"alphabetic","align":"center","color":"black"},
 "encoding":{"x":{"field":"lat","type":"quantitative"},"y":{"field":"p","type":"quantitative"},"text":{"field":"label"}}}
]
}
]
}
